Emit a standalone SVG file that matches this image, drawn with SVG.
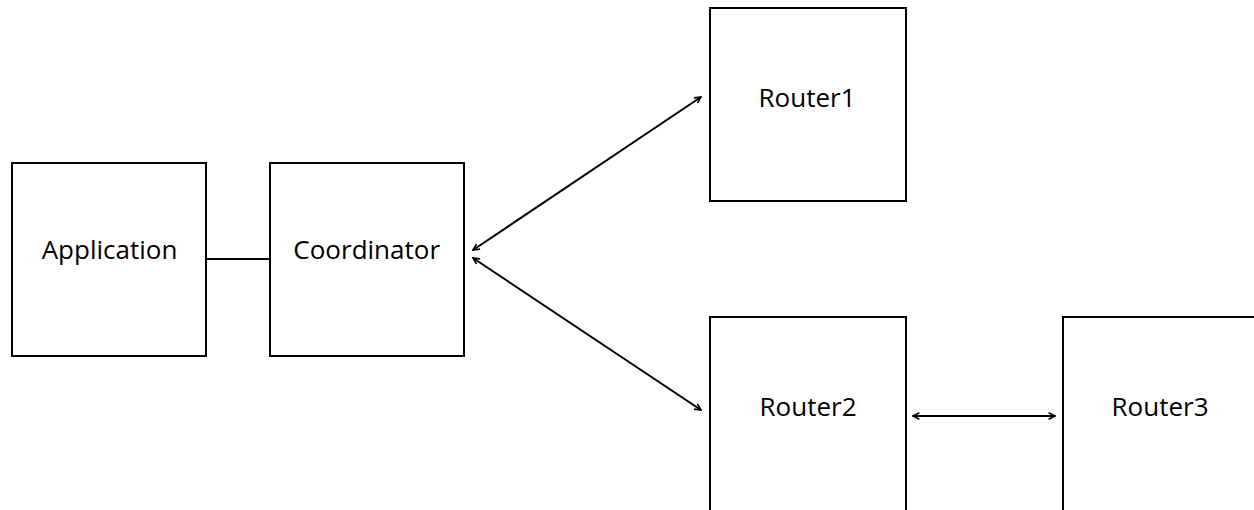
<svg xmlns="http://www.w3.org/2000/svg" width="1254" height="510" viewBox="0 0 1254 510">
<defs>
<style>
.box{fill:#fff;stroke:#000;stroke-width:2}
.lbl{font-family:"Open Sans","Noto Sans",sans-serif;font-size:26px;fill:#000;text-anchor:middle}
.conn{stroke:#000;stroke-width:2;fill:none}
</style>
<marker id="arr" viewBox="0 0 10 10" refX="9" refY="5" markerWidth="8" markerHeight="8" markerUnits="userSpaceOnUse" orient="auto-start-reverse">
<path d="M1,1 L9,5 L1,9" fill="none" stroke="#000" stroke-width="2"/>
</marker>
</defs>
<rect width="1254" height="510" fill="#fff"/>
<g id="application"><rect class="box" x="12" y="163" width="194" height="193"/><text class="lbl" x="109.5" y="259">Application</text></g>
<g id="coordinator"><rect class="box" x="270" y="163" width="194" height="193"/><text class="lbl" x="366.7" y="259">Coordinator</text></g>
<g id="router1"><rect class="box" x="710" y="8" width="196" height="193"/><text class="lbl" x="807" y="107">Router1</text></g>
<g id="router2"><rect class="box" x="710" y="317" width="196" height="200"/><text class="lbl" x="808" y="416">Router2</text></g>
<g id="router3"><rect class="box" x="1063" y="317" width="200" height="200"/><text class="lbl" x="1160" y="416">Router3</text></g>
<g id="connectors">
<line class="conn" x1="206" y1="259" x2="270" y2="259"/>
<line class="conn" x1="473" y1="250" x2="701" y2="97" marker-start="url(#arr)" marker-end="url(#arr)"/>
<line class="conn" x1="473" y1="258" x2="701" y2="410" marker-start="url(#arr)" marker-end="url(#arr)"/>
<line class="conn" x1="913" y1="416" x2="1055" y2="416" marker-start="url(#arr)" marker-end="url(#arr)"/>
</g>
</svg>
